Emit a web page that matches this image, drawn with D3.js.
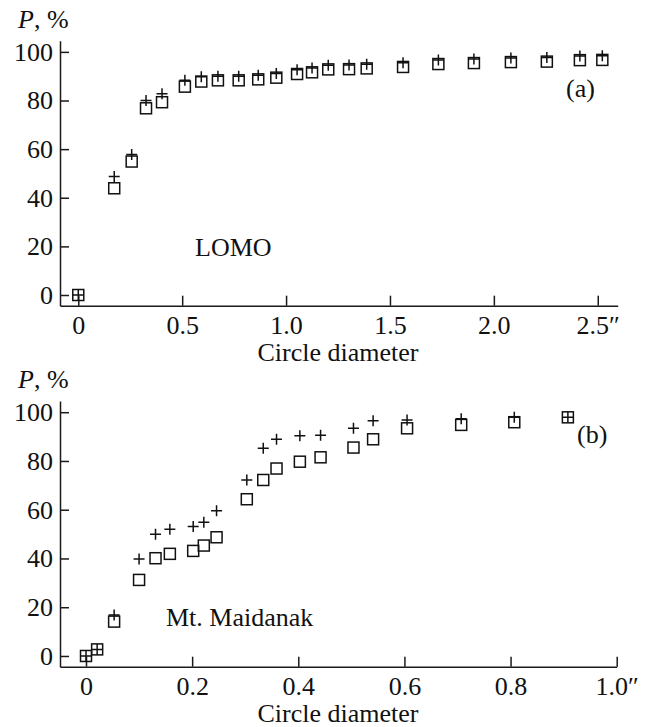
<!DOCTYPE html>
<html>
<head>
<meta charset="utf-8">
<script src="https://cdn.jsdelivr.net/npm/d3@7"></script>
<style>
  body { margin: 0; background: #fff; }
  svg text { font-family: "Liberation Serif", "Times New Roman", serif; fill: #111; }
  .axis path, .axis line { stroke: #1a1a1a; stroke-width: 1.5; }
  .axis text { font-size: 26px; font-family: "Liberation Serif", "Times New Roman", serif; }
</style>
</head>
<body>
<div id="chart"></div>
<script>
// panel (a) LOMO
var diamA = [0, 0.173, 0.257, 0.326, 0.403, 0.513, 0.592, 0.672, 0.772, 0.866, 0.953, 1.053, 1.125, 1.203, 1.303, 1.388, 1.563, 1.733, 1.904, 2.082, 2.255, 2.414, 2.522];
var squareA = [0, 43.9, 54.9, 76.8, 79.3, 85.7, 87.8, 88.3, 88.3, 88.7, 89.4, 90.9, 91.6, 92.8, 92.9, 93.2, 93.8, 95.0, 95.4, 95.8, 96.0, 96.6, 96.7];
var plusA = [0, 48.7, 57.8, 80.0, 82.8, 88.3, 89.8, 90.0, 90.0, 90.4, 91.1, 92.7, 93.4, 94.5, 94.6, 94.9, 95.5, 96.7, 97.1, 97.5, 97.7, 98.3, 98.4];
var ticksXA = [0, 0.5, 1.0, 1.5, 2.0, 2.5];

// panel (b) Mt. Maidanak
var diamB = [0, 0.021, 0.053, 0.100, 0.131, 0.158, 0.202, 0.222, 0.246, 0.303, 0.334, 0.359, 0.403, 0.442, 0.504, 0.541, 0.605, 0.707, 0.807, 0.908];
var squareB = [0, 2.7, 14.1, 31.2, 40.1, 41.9, 43.1, 45.3, 48.7, 64.3, 72.2, 76.9, 79.7, 81.5, 85.5, 88.9, 93.4, 94.8, 95.9, 97.9];
var plusB = [0, 2.7, 16.8, 39.8, 49.9, 52.0, 53.1, 54.9, 59.6, 72.2, 85.2, 88.9, 90.3, 90.6, 93.4, 96.5, 96.8, 97.3, 97.9, 97.9];
var ticksXB = [0, 0.2, 0.4, 0.6, 0.8, 1.0];

var ticksY = [0, 20, 40, 60, 80, 100];

var width = 645, height = 727;
const msize = 11; // marker size

var svg = d3.select("#chart")
  .append("svg")
    .attr("width", width)
    .attr("height", height);

function drawPanel(opt) {
    var x = d3.scaleLinear().domain(opt.xDomain).range([60, opt.xRight]);
    var y = d3.scaleLinear().domain([-4.4, 104.6]).range([opt.bottom, opt.top]);

    var last = opt.xticks[opt.xticks.length - 1];
    var xAxis = d3.axisBottom(x)
        .tickValues(opt.xticks)
        .tickSizeInner(-10)
        .tickSizeOuter(0)
        .tickPadding(10)
        .tickFormat(function(d) {
            var s = d === 0 ? "0" : d3.format(".1f")(d);
            return d === last ? s + "\u2033" : s;
        });

    svg.append("g")
        .attr("class", "axis")
        .attr("transform", "translate(0," + opt.bottom + ")")
        .call(xAxis);

    svg.append("g")
        .attr("class", "axis")
        .attr("transform", "translate(60,0)")
        .call(d3.axisLeft(y)
            .tickValues(ticksY)
            .tickSizeInner(-9)
            .tickSizeOuter(0)
            .tickPadding(7));

    // squares first, then the pluses on top
    svg.append("g").selectAll("rect")
        .data(opt.diam)
        .enter().append("rect")
        .attr("x", function(d) { return x(d) - msize / 2; })
        .attr("y", function(d, i) { return y(opt.sq[i]) - msize / 2; })
        .attr("width", msize)
        .attr("height", msize)
        .attr("fill", "none")
        .attr("stroke", "#111")
        .attr("stroke-width", 1.5);

    svg.append("g").selectAll("path")
        .data(opt.diam)
        .enter().append("path")
        .attr("d", function(d, i) {
            var cx = x(d), cy = y(opt.plus[i]), h = msize / 2;
            return "M" + (cx - h) + "," + cy + "H" + (cx + h) +
                   "M" + cx + "," + (cy - h) + "V" + (cy + h);
        })
        .attr("fill", "none")
        .attr("stroke", "#111")
        .attr("stroke-width", 1.5);

    // y label "P, %"
    var lab = svg.append("text")
        .attr("x", 18)
        .attr("y", opt.top - 13)
        .style("font-size", "26px");
    lab.append("tspan").style("font-style", "italic").text("P");
    lab.append("tspan").text(", %");

    svg.append("text")
        .attr("x", 338)
        .attr("y", opt.bottom + 55)
        .attr("text-anchor", "middle")
        .style("font-size", "26px")
        .text("Circle diameter");

    svg.append("text")
        .attr("x", opt.nameX)
        .attr("y", opt.nameY)
        .style("font-size", "26px")
        .text(opt.name);

    svg.append("text")
        .attr("x", opt.tagX)
        .attr("y", opt.tagY)
        .style("font-size", "26px")
        .text(opt.tag);
}

drawPanel({
    diam: diamA, sq: squareA, plus: plusA, xticks: ticksXA,
    xDomain: [-0.088, 2.596], xRight: 617.7,
    top: 40.7, bottom: 305.7,
    name: "LOMO", nameX: 195, nameY: 256,
    tag: "(a)", tagX: 566, tagY: 97
});

drawPanel({
    diam: diamB, sq: squareB, plus: plusB, xticks: ticksXB,
    xDomain: [-0.049, 1.0], xRight: 616.7,
    top: 401, bottom: 666.7,
    name: "Mt. Maidanak", nameX: 166, nameY: 626,
    tag: "(b)", tagX: 577, tagY: 443
});
</script>
</body>
</html>
